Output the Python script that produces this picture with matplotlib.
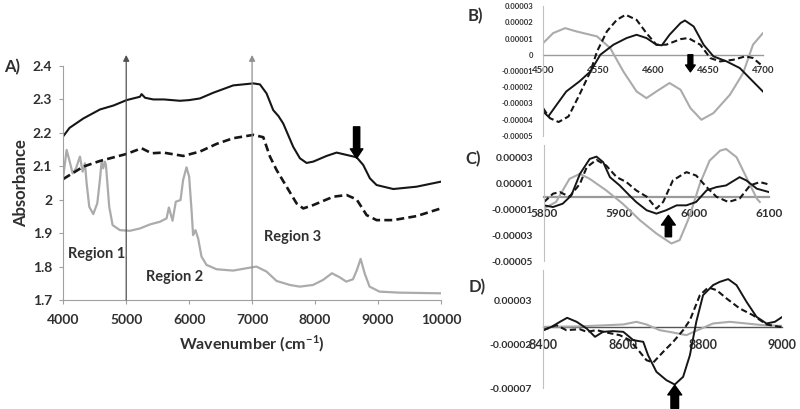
import matplotlib
matplotlib.use("Agg")
import matplotlib.pyplot as plt

plt.rcParams['font.family'] = ['Lato', 'DejaVu Sans']
plt.rcParams['font.weight'] = 'bold'

# ---------------- Panel A data ----------------
a_black_x = [4000, 4100, 4318, 4583, 4800, 5006, 5218, 5244, 5300, 5430, 5600, 5853, 6000, 6171, 6383,
             6700, 7019, 7125, 7230, 7336, 7420, 7495, 7654, 7760, 7866, 7972, 8184, 8343, 8502, 8661,
             8766, 8872, 8978, 9243, 9614, 10000]
a_black_y = [2.190, 2.215, 2.243, 2.270, 2.282, 2.298, 2.308, 2.316, 2.305, 2.300, 2.300, 2.296, 2.298,
             2.303, 2.320, 2.342, 2.348, 2.345, 2.318, 2.268, 2.250, 2.228, 2.158, 2.124, 2.110, 2.114,
             2.131, 2.141, 2.134, 2.127, 2.104, 2.064, 2.044, 2.032, 2.039, 2.054]

a_dash_x = [4000, 4318, 4583, 5006, 5244, 5403, 5589, 5907, 6171, 6436, 6700, 7019, 7178, 7284, 7389,
            7548, 7707, 7813, 7972, 8290, 8502, 8661, 8820, 8978, 9243, 9614, 10000]
a_dash_y = [2.062, 2.099, 2.116, 2.137, 2.154, 2.139, 2.141, 2.131, 2.144, 2.167, 2.184, 2.194, 2.187,
            2.129, 2.089, 2.039, 1.989, 1.974, 1.984, 2.009, 2.014, 2.001, 1.954, 1.939, 1.939, 1.951, 1.974]

a_gray_x = [4000, 4053, 4095, 4149, 4202, 4265, 4307, 4344, 4371, 4413, 4476, 4540, 4582, 4609, 4635,
            4660, 4678, 4730, 4784, 4900, 5059, 5218, 5376, 5535, 5587, 5641, 5678, 5736, 5788, 5863,
            5904, 5958, 6000, 6038, 6063, 6101, 6143, 6196, 6276, 6435, 6698, 6911, 7069, 7230, 7389,
            7601, 7757, 7968, 8127, 8269, 8391, 8497, 8603, 8666, 8725, 8788, 8867, 9026, 9344, 10000]
a_gray_y = [2.069, 2.149, 2.119, 2.079, 2.094, 2.129, 2.084, 2.109, 2.049, 1.979, 1.957, 1.989, 2.059,
            2.114, 2.094, 2.114, 2.104, 1.979, 1.924, 1.909, 1.907, 1.914, 1.926, 1.934, 1.939, 1.944,
            1.977, 1.937, 1.994, 1.999, 2.059, 2.097, 2.069, 1.969, 1.894, 1.909, 1.884, 1.830, 1.805,
            1.792, 1.788, 1.795, 1.800, 1.785, 1.757, 1.745, 1.740, 1.745, 1.760, 1.780, 1.768, 1.755,
            1.762, 1.790, 1.823, 1.780, 1.740, 1.725, 1.722, 1.720]

a_xticks = [4000, 5000, 6000, 7000, 8000, 9000, 10000]
a_yticks = [1.7, 1.8, 1.9, 2.0, 2.1, 2.2, 2.3, 2.4]
a_ylabels = ["1.7", "1.8", "1.9", "2", "2.1", "2.2", "2.3", "2.4"]
region_lines = [5000, 7000]
region_names = ["Region 1", "Region 2", "Region 3"]
region_pos = [(4535, 1.838), (5764, 1.770), (7649, 1.888)]

# ---------------- Panel B data ----------------
b_black_x = [4500, 4504.6, 4512, 4521, 4533, 4543, 4552, 4564, 4576, 4585, 4594, 4603, 4608, 4615,
             4625, 4629, 4637, 4646, 4655, 4667, 4679, 4688, 4700]
b_black_y = [-3.5, -3.8, -3.1, -2.26, -1.64, -1.03, 0.0, 0.62, 1.03, 1.23, 1.03, 0.62, 0.58, 1.23,
             1.95, 2.11, 1.74, 0.62, -0.10, -0.41, -0.82, -1.44, -2.26]
b_dash_x = [4500, 4506, 4514, 4523, 4533, 4543, 4549, 4558, 4567, 4575, 4585, 4594, 4603, 4612, 4625,
            4632, 4643, 4652, 4661, 4673, 4684, 4691, 4700]
b_dash_y = [-3.3, -3.9, -4.14, -3.8, -2.46, -1.03, 0.2, 1.44, 2.15, 2.46, 2.15, 1.33, 0.62, 0.62, 0.96,
            1.03, 0.62, -0.2, -0.41, -0.31, -0.1, -0.2, -0.72]
b_gray_x = [4500, 4509, 4520, 4530, 4549, 4561, 4573, 4585, 4594, 4603, 4615, 4625, 4634, 4644, 4655,
            4670, 4682, 4691, 4700]
b_gray_y = [0.72, 1.33, 1.64, 1.44, 1.13, 0.41, -1.03, -2.26, -2.67, -2.26, -1.74, -2.15, -3.28, -4.0,
            -3.59, -2.46, -1.13, 0.62, 1.33]
b_xticks = [4500, 4550, 4600, 4650, 4700]
b_yticks = [3, 2, 1, 0, -1, -2, -3, -4, -5]
b_ylabels = ["0.00003", "0.00002", "0.00001", "0", "-0.00001", "-0.00002", "-0.00003", "-0.00004", "-0.00005"]

# ---------------- Panel C data ----------------
c_black_x = [5800, 5812, 5825, 5836.5, 5848, 5861, 5870, 5879, 5888, 5901, 5914, 5923, 5937, 5950,
             5963, 5977, 5990, 6003, 6017, 6030, 6043, 6061, 6070, 6084, 6100]
c_black_y = [-0.67, -0.8, -0.54, 0.1, 1.77, 2.92, 3.1, 2.67, 1.51, 0.87, 0.1, -0.41, -1.05, -1.31,
             -1.05, -0.67, -0.67, -0.41, 0.49, 0.74, 0.87, 1.51, 1.26, 0.62, 0.36]
c_dash_x = [5800, 5812, 5821, 5834, 5848, 5857, 5870, 5883, 5897, 5910, 5923, 5937, 5950, 5959, 5972,
            5990, 6003, 6017, 6030, 6046, 6061, 6075, 6088, 6100]
c_dash_y = [-0.41, 0.23, 0.36, 0.0, 1.0, 2.28, 2.85, 2.41, 1.51, 1.13, 0.49, 0.0, -0.92, -0.41, 1.26,
            1.9, 1.64, 0.74, 0.0, -0.41, -0.15, 0.87, 1.13, 0.95]
c_gray_x = [5800, 5816, 5834, 5848, 5861, 5883, 5905, 5928, 5950, 5970, 5981, 5994, 6008, 6021, 6035,
            6043, 6057, 6070, 6084, 6088]
c_gray_y = [-0.92, -0.41, 1.38, 1.77, 1.38, 0.49, -0.54, -1.82, -2.85, -3.62, -3.36, -1.56, 1.0, 2.79,
            3.56, 3.69, 3.05, 1.51, -0.15, -0.41]
c_xticks = [5800, 5900, 6000, 6100]
c_yticks = [3, 1, -1, -3, -5]
c_ylabels = ["0.00003", "0.00001", "-0.00001", "-0.00003", "-0.00005"]

# ---------------- Panel D data ----------------
d_black_x = [8400, 8421, 8442, 8460, 8484, 8509, 8530, 8550, 8575, 8601, 8626, 8651, 8663, 8684, 8709,
             8730, 8751, 8768, 8784, 8801, 8826, 8843, 8864, 8885, 8910, 8935, 8960, 8981, 9000]
d_black_y = [-0.38, 0.0, 0.57, 1.03, 0.57, -0.19, -1.14, -0.57, -0.49, -0.57, -1.52, -1.71, -3.23,
             -5.13, -6.08, -6.58, -5.7, -3.23, 0.57, 3.61, 4.75, 5.13, 5.44, 4.75, 2.85, 1.14, 0.38,
             0.57, 1.14]
d_dash_x = [8400, 8433, 8458, 8492, 8509, 8534, 8559, 8592, 8617, 8642, 8659, 8676, 8701, 8726, 8751,
            8768, 8793, 8814, 8835, 8860, 8893, 8926, 8960, 8993, 9000]
d_dash_y = [-0.38, 0.19, -0.38, -0.27, -0.57, -0.38, -0.65, -0.95, -1.52, -2.85, -3.8, -4.07, -2.85,
            -1.71, -0.38, 0.76, 3.61, 4.49, 4.18, 3.23, 2.09, 1.33, 0.27, 0.0, 0.0]
d_gray_x = [8400, 8492, 8601, 8634, 8659, 8692, 8726, 8759, 8793, 8826, 8868, 8910, 8951, 9000]
d_gray_y = [0.0, 0.05, 0.27, 0.57, 0.27, -0.38, -0.65, -0.95, -0.27, 0.38, 0.57, 0.38, 0.19, 0.1]
d_xticks = [8400, 8600, 8800, 9000]
d_yticks = [3, -2, -7]
d_ylabels = ["0.00003", "-0.00002", "-0.00007"]

SCALE = 1e-5
BLACK = '#161616'
GRAY = '#ababab'
TXT = '#303030'
SPINE = '#a0a0a0'

fig = plt.figure(figsize=(8, 4.09), dpi=100)

# ---------------- Panel A ----------------
axA = fig.add_axes([0.0791, 0.2665, 0.472, 0.5721])
axA.plot(a_gray_x, a_gray_y, color=GRAY, lw=1.6, solid_joinstyle='round')
axA.plot(a_dash_x, a_dash_y, color=BLACK, lw=1.9, ls=(0, (3, 1.6)))
axA.plot(a_black_x, a_black_y, color=BLACK, lw=1.5, solid_joinstyle='round')
axA.set_xlim(4000, 10000)
axA.set_ylim(1.7, 2.4)
axA.set_xticks(a_xticks)
axA.set_xticklabels([str(v) for v in a_xticks])
axA.set_yticks(a_yticks)
axA.set_yticklabels(a_ylabels)
for s in ['top', 'right']:
    axA.spines[s].set_visible(False)
for s in ['left', 'bottom']:
    axA.spines[s].set_color(SPINE)
    axA.spines[s].set_linewidth(0.8)
axA.tick_params(axis='both', direction='out', length=3, width=0.8, color=SPINE,
                labelsize=10, labelcolor=TXT)
axA.tick_params(axis='x', pad=7)
axA.tick_params(axis='y', pad=5)
for lab in axA.get_xticklabels() + axA.get_yticklabels():
    lab.set_fontweight('bold')
for xv, col in zip(region_lines, ['#505050', '#909090']):
    axA.annotate('', xy=(xv, 2.433), xytext=(xv, 1.7), xycoords='data',
                 arrowprops=dict(arrowstyle='-|>,head_length=0.35,head_width=0.18', color=col,
                                 lw=0.9, shrinkA=0, shrinkB=0), annotation_clip=False)
for name, (xx, yy) in zip(region_names, region_pos):
    axA.text(xx, yy, name, ha='center', va='center', fontsize=10.5, fontweight='bold', color=TXT)
axA.annotate('', xy=(8661, 2.124), xytext=(8661, 2.218),
             arrowprops=dict(arrowstyle='simple,head_length=0.75,head_width=1.0,tail_width=0.5',
                             mutation_scale=9, color='black', shrinkA=0, shrinkB=0))
fig.text(0.005, 0.836, 'A)', fontsize=12, fontweight='bold', color=TXT, va='center', ha='left')
fig.text(0.026, 0.553, 'Absorbance', fontsize=12, fontweight='bold', color=TXT,
         rotation=90, va='center', ha='center')
fig.text(0.315, 0.159, r'Wavenumber (cm$^{\mathregular{-1}}$)', fontsize=11.5, fontweight='bold',
         color=TXT, va='center', ha='center')


def draw_panel(rect, series, xlim, ylim, xticks, yticks, ylabels, xfs, yfs, xpad, ypad, zero_col, zero_lw):
    ax = fig.add_axes(rect)
    gx, gy = series[2]
    ax.plot(gx, [v * SCALE for v in gy], color=GRAY, lw=1.5, solid_joinstyle='round')
    dx, dy = series[1]
    ax.plot(dx, [v * SCALE for v in dy], color=BLACK, lw=1.5, ls=(0, (3, 1.6)))
    bx, by = series[0]
    ax.plot(bx, [v * SCALE for v in by], color=BLACK, lw=1.4, solid_joinstyle='round')
    ax.set_xlim(*xlim)
    ax.set_ylim(ylim[0] * SCALE, ylim[1] * SCALE)
    ax.set_xticks(xticks)
    ax.set_xticklabels([str(v) for v in xticks])
    ax.set_yticks([v * SCALE for v in yticks])
    ax.set_yticklabels(ylabels)
    for s in ['top', 'right']:
        ax.spines[s].set_visible(False)
    ax.spines['left'].set_color('#c0c0c0')
    ax.spines['left'].set_linewidth(0.8)
    ax.spines['bottom'].set_position(('data', 0))
    ax.spines['bottom'].set_color(zero_col)
    ax.spines['bottom'].set_linewidth(zero_lw)
    ax.spines['bottom'].set_zorder(1)
    ax.tick_params(axis='x', length=0, labelsize=xfs, labelcolor=TXT, pad=xpad)
    ax.tick_params(axis='y', length=0, labelsize=yfs, labelcolor=TXT, pad=ypad)
    for lab in ax.get_xticklabels() + ax.get_yticklabels():
        lab.set_fontweight('bold')
    return ax


axB = draw_panel([0.679, 0.6675, 0.2746, 0.3178],
                 [(b_black_x, b_black_y), (b_dash_x, b_dash_y), (b_gray_x, b_gray_y)],
                 (4500, 4700), (-5, 3), b_xticks, b_yticks, b_ylabels, 7, 5.5, 8, 7, '#9a9a9a', 1.0)
axB.annotate('', xy=(4634, -1.05e-5), xytext=(4634, 0.0),
             arrowprops=dict(arrowstyle='simple,head_length=0.7,head_width=1.0,tail_width=0.5',
                             mutation_scale=7, color='black', shrinkA=0, shrinkB=0))

axC = draw_panel([0.680, 0.3611, 0.281, 0.2844],
                 [(c_black_x, c_black_y), (c_dash_x, c_dash_y), (c_gray_x, c_gray_y)],
                 (5800, 6100), (-5, 4), c_xticks, c_yticks, c_ylabels, 8.5, 7.3, 8, 8, '#9a9a9a', 1.6)
axC.annotate('', xy=(5966, -1.44e-5), xytext=(5966, -3.1e-5),
             arrowprops=dict(arrowstyle='simple,head_length=0.7,head_width=1.0,tail_width=0.45',
                             mutation_scale=10, color='black', shrinkA=0, shrinkB=0))

axD = draw_panel([0.679, 0.0508, 0.299, 0.2895],
                 [(d_black_x, d_black_y), (d_dash_x, d_dash_y), (d_gray_x, d_gray_y)],
                 (8400, 9000), (-7, 6.5), d_xticks, d_yticks, d_ylabels, 9, 7.5, 9, 8, '#555555', 1.0)
axD.annotate('', xy=(8730, -6.65e-5), xytext=(8730, -9.3e-5),
             arrowprops=dict(arrowstyle='simple,head_length=0.7,head_width=1.0,tail_width=0.55',
                             mutation_scale=10, color='black', shrinkA=0, shrinkB=0),
             annotation_clip=False)

fig.text(0.585, 1 - 16 / 409, 'B)', fontsize=12, fontweight='bold', color=TXT, va='center', ha='left')
fig.text(0.582, 1 - 159 / 409, 'C)', fontsize=12, fontweight='bold', color=TXT, va='center', ha='left')
fig.text(0.586, 1 - 287 / 409, 'D)', fontsize=12, fontweight='bold', color=TXT, va='center', ha='left')

fig.savefig('out.png', dpi=100)
